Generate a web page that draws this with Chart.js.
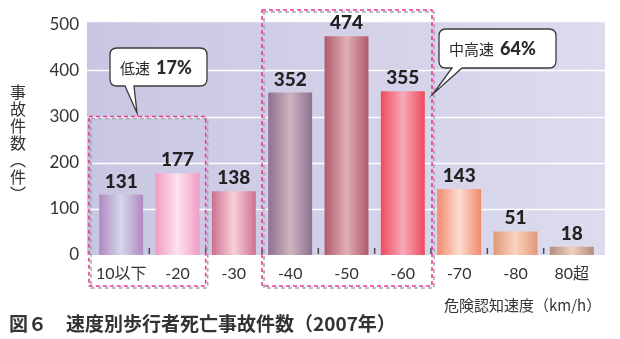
<!DOCTYPE html>
<html lang="ja">
<head>
<meta charset="UTF-8">
<title>速度別歩行者死亡事故件数</title>
<script src="https://cdn.jsdelivr.net/npm/chart.js"></script>
<style>
  body { margin: 0; background: #fff; }
  .wrap { position: relative; width: 620px; height: 339px; font-family: "Noto Sans CJK JP", sans-serif; color: #333; }
  canvas { position: absolute; left: 0; top: 0; }
  #ytitle { position: absolute; left: 9px; top: 84px; writing-mode: vertical-rl; font-size: 16px; line-height: 18px; letter-spacing: 1px; }
  #xtitle { position: absolute; left: 444px; top: 295px; font-size: 15px; line-height: 20px; }
  #caption { position: absolute; left: 9px; top: 311px; font-size: 19px; line-height: 24px; font-weight: 700; }
</style>
</head>
<body>
<div class="wrap">
  <canvas id="grafico" width="620" height="339"></canvas>
  <div id="ytitle">事故件数︵件︶</div>
  <div id="xtitle">危険認知速度（km/h）</div>
  <div id="caption">図６　速度別歩行者死亡事故件数（2007年）</div>
</div>
<script>
  const categorias = ['10以下', '-20', '-30', '-40', '-50', '-60', '-70', '-80', '80超'];
  const mortes = [131, 177, 138, 352, 474, 355, 143, 51, 18];
  const yTicks = [0, 100, 200, 300, 400, 500];
  const corBorda = ['#b088c0', '#f09cc4', '#cc7090', '#907090', '#b05a6c', '#f04a5c', '#f28a6c', '#e0987a', '#b48c80'];
  const corCentro = ['#d4d8ec', '#fce4ee', '#f8d0d8', '#ccb4c0', '#e0b0b4', '#f8aab8', '#fddcd0', '#fcd4c0', '#f0d0c0'];

  const BAR_PCT = 0.78;

  function gradiente(ctx) {
    const chart = ctx.chart;
    if (!chart.chartArea) return corBorda[ctx.dataIndex];
    const sx = chart.scales.x;
    const cx = sx.getPixelForValue(ctx.dataIndex);
    const w = sx.width / categorias.length * BAR_PCT;
    const g = chart.ctx.createLinearGradient(cx - w / 2, 0, cx + w / 2, 0);
    g.addColorStop(0, corBorda[ctx.dataIndex]);
    g.addColorStop(0.5, corCentro[ctx.dataIndex]);
    g.addColorStop(1, corBorda[ctx.dataIndex]);
    return g;
  }

  function caixaTracejada(c, x1, y1, x2, y2) {
    c.save();
    c.lineWidth = 1.6;
    c.setLineDash([4, 3]);
    c.strokeStyle = '#a8a8a8';
    c.strokeRect(x1 + 2, y1 + 2, x2 - x1, y2 - y1);
    c.strokeStyle = '#e8399a';
    c.strokeRect(x1, y1, x2 - x1, y2 - y1);
    c.restore();
  }

  function balao(c, x1, y1, x2, y2, cauda, rotulo, pct) {
    c.save();
    const r = 7;
    c.beginPath();
    c.moveTo(x1 + r, y1);
    c.lineTo(x2 - r, y1);
    c.quadraticCurveTo(x2, y1, x2, y1 + r);
    c.lineTo(x2, y2 - r);
    c.quadraticCurveTo(x2, y2, x2 - r, y2);
    c.lineTo(cauda[2], y2);
    c.lineTo(cauda[3], cauda[4]);
    c.lineTo(cauda[0], y2);
    c.lineTo(x1 + r, y2);
    c.quadraticCurveTo(x1, y2, x1, y2 - r);
    c.lineTo(x1, y1 + r);
    c.quadraticCurveTo(x1, y1, x1 + r, y1);
    c.closePath();
    c.fillStyle = '#fff';
    c.fill();
    c.lineWidth = 1.3;
    c.strokeStyle = '#3a3a3a';
    c.stroke();
    c.fillStyle = '#2a2a2a';
    c.textBaseline = 'middle';
    const ym = (y1 + y2) / 2 + 1;
    c.font = '15px "Noto Sans CJK JP"';
    c.fillText(rotulo, x1 + 10, ym);
    const w = c.measureText(rotulo).width;
    c.font = '900 18px Lato, "Noto Sans CJK JP"';
    c.fillText(pct, x1 + 10 + w + 6, ym);
    c.restore();
  }

  const deco = {
    id: 'deco',
    beforeDatasetsDraw(chart) {
      const c = chart.ctx;
      const sx = chart.scales.x, sy = chart.scales.y;
      const area = chart.chartArea;
      const left = area.left - 6, right = area.right + 5;
      const top = sy.getPixelForValue(500) - 2, bottom = sy.getPixelForValue(0);
      c.save();
      const g = c.createLinearGradient(left, 0, right, 0);
      g.addColorStop(0, '#c9c6e3');
      g.addColorStop(1, '#dddbee');
      c.fillStyle = g;
      c.fillRect(left, top, right - left, bottom - top);
      c.strokeStyle = '#ffffff';
      c.lineWidth = 1.5;
      yTicks.slice(1, -1).forEach(v => {
        const y = Math.round(sy.getPixelForValue(v)) + 0.5;
        c.beginPath();
        c.moveTo(left, y);
        c.lineTo(right, y);
        c.stroke();
      });
      const cw = sx.width / categorias.length;
      c.strokeStyle = '#4a4a4a';
      c.lineWidth = 1.5;
      for (let i = 0; i < categorias.length - 1; i++) {
        const x = sx.getPixelForValue(i) + cw / 2;
        c.beginPath();
        c.moveTo(x, bottom - 7);
        c.lineTo(x, bottom - 1);
        c.stroke();
      }
      c.restore();
    },
    afterDatasetsDraw(chart) {
      const c = chart.ctx;
      const sx = chart.scales.x, sy = chart.scales.y;
      const meta = chart.getDatasetMeta(0);
      c.save();
      c.fillStyle = '#222';
      c.textAlign = 'center';
      c.textBaseline = 'alphabetic';
      c.font = '900 19px Lato, "Noto Sans CJK JP"';
      meta.data.forEach((bar, i) => {
        c.fillText(String(mortes[i]), bar.x, bar.y - 7);
      });
      c.restore();

      const cw = sx.width / categorias.length;
      const baixo = sy.getPixelForValue(0) + 31;
      caixaTracejada(c, sx.getPixelForValue(0) - cw / 2 - 4, sy.getPixelForValue(300), sx.getPixelForValue(1) + cw / 2, baixo);
      caixaTracejada(c, sx.getPixelForValue(3) - cw / 2, 10, sx.getPixelForValue(5) + cw / 2 + 1, baixo);

      c.save();
      c.textAlign = 'left';
      balao(c, 110, 48, 207, 86, [125, 0, 134, 137, 113], '低速', '17%');
      balao(c, 439, 29, 556, 68, [452, 0, 462, 433, 94], '中高速', '64%');
      c.restore();
    }
  };

  new Chart(document.getElementById('grafico'), {
    type: 'bar',
    data: {
      labels: categorias,
      datasets: [{
        data: mortes,
        backgroundColor: gradiente,
        borderWidth: 0,
        categoryPercentage: 1,
        barPercentage: BAR_PCT
      }]
    },
    options: {
      responsive: false,
      animation: false,
      layout: { padding: { left: 0, right: 20, top: 20, bottom: 0 } },
      plugins: { legend: { display: false }, tooltip: { enabled: false } },
      scales: {
        x: {
          grid: { display: false, drawTicks: false },
          border: { display: false },
          ticks: {
            color: '#333',
            padding: 9,
            maxRotation: 0,
            font: { family: 'Lato, "Noto Sans CJK JP"', size: 16 }
          },
          afterFit(scale) { scale.height = 84; }
        },
        y: {
          min: 0,
          max: 500,
          grid: { display: false, drawTicks: false },
          border: { display: false },
          ticks: {
            stepSize: 100,
            color: '#333',
            padding: 14,
            font: { family: 'Lato, "Noto Sans CJK JP"', size: 17 }
          },
          afterFit(scale) { scale.width = 93; }
        }
      }
    },
    plugins: [deco]
  });
</script>
</body>
</html>
